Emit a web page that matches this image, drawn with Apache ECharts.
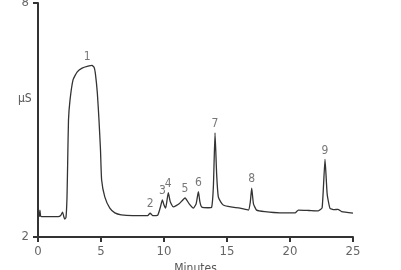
<!DOCTYPE html>
<html><head><meta charset="utf-8">
<script src="https://cdn.jsdelivr.net/npm/echarts@6/dist/echarts.min.js"></script>
<style>html,body{margin:0;padding:0;background:#fff}#c{width:401px;height:270px}</style>
</head><body><div id="c"></div>
<script>
const times = [0,0.1,0.15,0.22,0.5,1.6,1.8,1.95,2.05,2.12,2.22,2.3,2.36,2.42,2.54,2.78,3.1,3.5,3.97,4.29,4.45,4.55,4.71,4.84,4.96,5.05,5.3,5.7,6.1,6.6,7.5,8.7,8.9,9.1,9.5,9.7,9.87,10.0,10.13,10.34,10.5,10.74,11.2,11.67,12.0,12.33,12.55,12.73,12.85,12.99,13.5,13.78,13.92,14.05,14.18,14.31,14.5,14.7,15.3,16.03,16.7,16.85,16.96,17.1,17.35,18.0,19.2,20.4,20.66,21.5,22.25,22.55,22.78,22.95,23.17,23.5,23.8,24.1,25];
const signal = [2.52,2.53,2.69,2.53,2.52,2.52,2.55,2.64,2.52,2.46,2.5,3.0,4.0,5.0,5.51,6.03,6.23,6.33,6.38,6.4,6.35,6.2,5.69,5.0,4.23,3.46,3.03,2.74,2.62,2.57,2.55,2.55,2.61,2.55,2.56,2.75,2.95,2.82,2.74,3.14,2.9,2.77,2.85,3.0,2.85,2.74,2.85,3.16,2.9,2.77,2.75,2.76,3.3,4.67,3.6,3.03,2.9,2.82,2.77,2.74,2.69,2.9,3.25,2.85,2.69,2.65,2.62,2.62,2.69,2.68,2.67,2.75,3.99,3.1,2.74,2.7,2.71,2.65,2.61];
const peakNames = ['1','2','3','4','5','6','7','8','9'];
const peakTimes = [3.9,8.9,9.87,10.34,11.67,12.73,14.05,16.96,22.78];
const peakHeights = [6.38,2.61,2.95,3.14,3.0,3.16,4.67,3.25,3.99];
const xTicks = [0,5,10,15,20,25];
const yTicks = [2,8];

const font = '"Liberation Sans Narrow","DejaVu Sans Condensed","Liberation Sans",Arial,sans-serif';
const chart = echarts.init(document.getElementById('c'), null, {renderer:'canvas'});
chart.setOption({
  animation:false,
  grid:{left:38,right:48,top:3,bottom:33,containLabel:false,outerBoundsMode:'none'},
  xAxis:{type:'value',min:xTicks[0],max:xTicks[xTicks.length-1],interval:5,
    name:'Minutes',nameLocation:'middle',nameGap:24,
    nameTextStyle:{color:'#555',fontSize:12,fontFamily:font},
    axisLine:{onZero:false,lineStyle:{color:'#333',width:2}},
    axisTick:{show:true,length:5,lineStyle:{color:'#333',width:2}},
    axisLabel:{color:'#666',fontSize:13,fontFamily:font,margin:8},
    splitLine:{show:false}},
  yAxis:{type:'value',min:yTicks[0],max:yTicks[1],interval:6,
    axisLine:{show:true,lineStyle:{color:'#333',width:2}},
    axisTick:{show:true,length:5,lineStyle:{color:'#333',width:2}},
    axisLabel:{color:'#666',fontSize:13,fontFamily:font,margin:9},
    splitLine:{show:false}},
  graphic:[{type:'text',left:18,top:93,style:{text:'µS',fill:'#555',fontSize:12,fontFamily:font}}],
  series:[
    {type:'line',data:times.map((t,i)=>[t,signal[i]]),showSymbol:false,smooth:0.15,
     lineStyle:{color:'#333',width:1.3},z:3},
    {type:'scatter',data:peakTimes.map((t,i)=>({name:peakNames[i],value:[t,peakHeights[i]]})),
     symbolSize:0,silent:true,
     label:{show:true,position:'top',distance:3,formatter:p=>p.name,color:'#555',fontSize:12,fontFamily:font}}
  ]
});
</script></body></html>
